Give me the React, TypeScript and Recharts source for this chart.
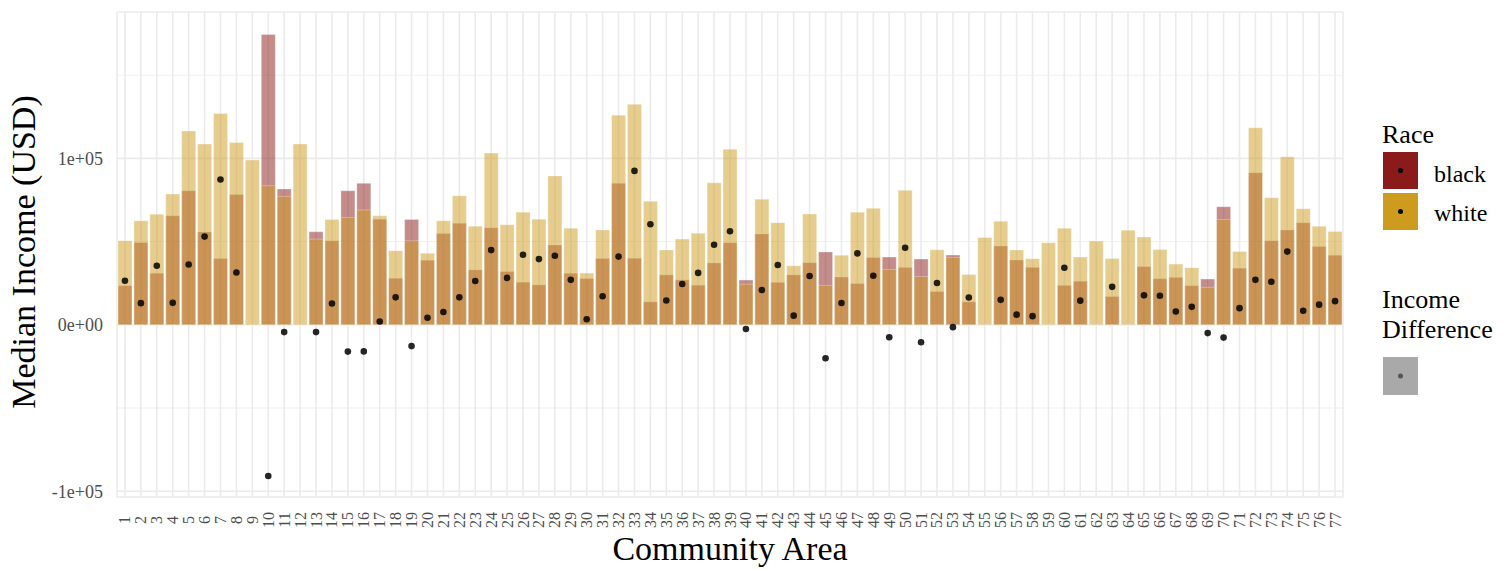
import { Bar, CartesianGrid, ComposedChart, Customized, Scatter, XAxis, YAxis } from "recharts";

// community areas 1..77
const areas = [
  1, 2, 3, 4, 5, 6, 7, 8, 9, 10, 11, 12, 13, 14, 15, 16, 17, 18, 19, 20,
  21, 22, 23, 24, 25, 26, 27, 28, 29, 30, 31, 32, 33, 34, 35, 36, 37, 38, 39, 40,
  41, 42, 43, 44, 45, 46, 47, 48, 49, 50, 51, 52, 53, 54, 55, 56, 57, 58, 59, 60,
  61, 62, 63, 64, 65, 66, 67, 68, 69, 70, 71, 72, 73, 74, 75, 76, 77,
];

// median income, USD (null = no estimate)
const blackIncome = [
  23500, 49500, 31000, 65500, 80500, 55800, 39800, 78300, null, 174500,
  81600, null, 55900, 50500, 80600, 85000, 63500, 28000, 63300, 38800,
  54800, 61000, 33000, 58300, 32000, 25600, 24000, 48000, 31000, 27800,
  39800, 85000, 40000, 13800, 30000, 27000, 23800, 37200, 49300, 26900,
  54600, 25500, 30000, 37300, 43800, 28700, 24800, 40500, 40700, 34500,
  39500, 20000, 41900, 13800, null, 47300, 38900, 34500, null, 23700,
  26200, null, 17000, null, 35000, 27700, 28500, 23500, 27500, 71000,
  34000, 91400, 50500, 57000, 61300, 47100, 41800,
];

const whiteIncome = [
  50500, 62500, 66500, 78600, 116500, 108600, 127000, 109600, 99000, 83600,
  77200, 108600, 51500, 63300, 64500, 69000, 65500, 44500, 50500, 43000,
  62500, 77500, 59300, 103200, 60200, 67700, 63500, 89500, 58000, 31100,
  57000, 126000, 132500, 74200, 45000, 51500, 55000, 85300, 105500, 24400,
  75500, 61400, 35500, 66600, 23700, 41800, 67700, 70000, 33200, 80800,
  29000, 45100, 40500, 30200, 52500, 62300, 45000, 39700, 49300, 58000,
  40700, 50300, 39800, 56900, 52700, 45200, 36500, 34300, 22500, 63300,
  44000, 118400, 76400, 101000, 69700, 59200, 56000,
];

// white minus black, as plotted
const incomeDiff = [
  26500, 13000, 35500, 13200, 36200, 53000, 87300, 31400, null, -90900,
  -4400, null, -4400, 12800, -16100, -16000, 2000, 16500, -12800, 4200,
  7700, 16500, 26300, 44900, 28200, 42100, 39500, 41500, 27000, 3300,
  17200, 41000, 92500, 60400, 14600, 24500, 31200, 48100, 56200, -2500,
  20900, 35900, 5500, 29300, -20100, 13100, 42900, 29500, -7500, 46300,
  -10500, 25100, -1400, 16400, null, 15000, 6100, 5200, null, 34300,
  14500, null, 22800, null, 17700, 17500, 8000, 10800, -5000, -7700,
  10000, 27000, 25900, 44000, 8400, 12100, 14200,
];

const yTicks = [-100000, 0, 100000];
const yTickLabels = ["-1e+05", "0e+00", "1e+05"];
const minorYLines = [-50000, 50000, 150000];

const BLACK = "#8B1A1A";
const WHITE = "#CD9B1D";
const GRID = "#EBEBEB";
const FONT = "'Liberation Serif', 'Times New Roman', serif";
const serif = { fontFamily: FONT };

const rows = areas.map((a, i) => ({
  area: String(a),
  black: blackIncome[i],
  white: whiteIncome[i],
  diff: incomeDiff[i],
}));

function AreaTick({ x, y, payload }: any) {
  return (
    <text
      x={x}
      y={y}
      transform={`rotate(-90, ${x}, ${y})`}
      textAnchor="middle"
      dominantBaseline="central"
      fontSize={16}
      fill="#4D4D4D"
      style={serif}
    >
      {payload.value}
    </text>
  );
}

function DiffDot(props: any) {
  if (props.payload?.diff == null || props.cy == null) return <g />;
  return <circle cx={props.cx} cy={props.cy} r={3.3} fill="#000" fillOpacity={0.85} />;
}

function Extras() {
  return (
    <g fill="#000">
      <text x={35} y={252} transform="rotate(-90, 35, 252)" textAnchor="middle" fontSize={34} style={serif}>
        Median Income (USD)
      </text>
      <text x={730} y={560} textAnchor="middle" fontSize={34} style={serif}>
        Community Area
      </text>

      <text x={1382} y={143} fontSize={26} style={serif}>Race</text>
      <rect x={1383} y={152} width={35} height={37} fill={BLACK} />
      <circle cx={1400.5} cy={170.5} r={2.5} fill="#000" />
      <text x={1434} y={182} fontSize={24} style={serif}>black</text>
      <rect x={1383} y={193} width={35} height={37} fill={WHITE} />
      <circle cx={1400.5} cy={211.5} r={2.5} fill="#000" />
      <text x={1434} y={221} fontSize={24} style={serif}>white</text>

      <text x={1382} y={308} fontSize={26} style={serif}>Income</text>
      <text x={1382} y={338} fontSize={26} style={serif}>Difference</text>
      <rect x={1383} y={357} width={35} height={38} fill="#A9A9A9" />
      <circle cx={1400.5} cy={376} r={2.5} fill="#555" />
    </g>
  );
}

export default function App() {
  return (
    <div style={{ position: "absolute", left: 0, top: 0, background: "#fff" }}>
      <ComposedChart
        width={1510}
        height={569}
        data={rows}
        margin={{ top: 12, right: 167, bottom: 0, left: 0 }}
      >
        <CartesianGrid stroke={GRID} strokeWidth={1.6} />
        <CartesianGrid stroke={GRID} strokeWidth={0.8} vertical={false} horizontalValues={minorYLines} />
        <XAxis
          xAxisId={0}
          dataKey="area"
          interval={0}
          height={72}
          axisLine={false}
          tickLine={false}
          tickSize={0}
          tickMargin={23}
          tick={<AreaTick />}
        />
        <XAxis xAxisId="w" dataKey="area" hide />
        <YAxis
          domain={[-103500, 188000]}
          ticks={yTicks}
          tickFormatter={(v) => yTickLabels[yTicks.indexOf(v)] ?? ""}
          width={117}
          axisLine={false}
          tickLine={false}
          tickSize={0}
          tickMargin={14}
          tick={{ fontSize: 18, fill: "#4D4D4D", style: serif }}
        />
        <Bar dataKey="black" xAxisId={0} fill={BLACK} fillOpacity={0.5} stroke="#fff" strokeOpacity={0.5} strokeWidth={0.6} barSize={14} isAnimationActive={false} />
        <Bar dataKey="white" xAxisId="w" fill={WHITE} fillOpacity={0.5} stroke="#fff" strokeOpacity={0.5} strokeWidth={0.6} barSize={14} isAnimationActive={false} />
        <Scatter dataKey="diff" xAxisId={0} shape={<DiffDot />} isAnimationActive={false} />
        <Customized component={<Extras />} />
      </ComposedChart>
    </div>
  );
}
